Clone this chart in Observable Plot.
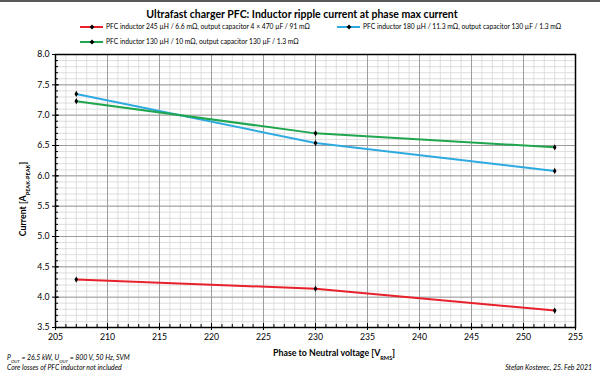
<!DOCTYPE html>
<html><head><meta charset="utf-8">
<script src="https://cdn.jsdelivr.net/npm/d3@7"></script>
<script src="https://cdn.jsdelivr.net/npm/@observablehq/plot@0.6"></script>
<style>body{margin:0;background:#fff;} svg{display:block;}</style>
</head><body><div id="chart"></div>
<script>
// ---- data ----
const voltage = [207, 230, 253];
const red245 = [4.29, 4.14, 3.78];
const blue180 = [7.35, 6.54, 6.08];
const green130 = [7.23, 6.70, 6.47];
const seriesNames = [
  "PFC inductor 245 µH / 6.6 mΩ, output capacitor 4 × 470 µF / 91 mΩ",
  "PFC inductor 180 µH / 11.3 mΩ, output capacitor 130 µF / 1.3 mΩ",
  "PFC inductor 130 µH / 10 mΩ, output capacitor 130 µF / 1.3 mΩ"
];
const seriesColors = ["#e8212b", "#2eaae1", "#1fa64f"];
const xTicks = d3.range(205, 256, 5);
const xMinor = d3.range(205, 256, 1);
const yTicks = d3.range(35, 81, 5).map(v => v / 10);
const yMinor = d3.range(35, 81, 1).map(v => v / 10);
const titleText = "Ultrafast charger PFC: Inductor ripple current at phase max current";
const author = "Stefan Kosterec, 25. Feb 2021";

const seriesValues = [red245, blue180, green130];
const rows = seriesValues.flatMap((vals, i) => vals.map((v, j) => ({series: seriesNames[i], x: voltage[j], y: v})));

const W = 600, H = 382, mT = 54, mB = 55, mL = 55, mR = 25;
const fw = W - mL - mR, fh = H - mT - mB;
const font = "Lato, 'Open Sans', sans-serif";
const plot = Plot.plot({
  width: W, height: H,
  marginTop: mT, marginBottom: mB, marginLeft: mL, marginRight: mR,
  style: {fontFamily: font, background: "white", color: "black"},
  x: {domain: [205, 255], label: null},
  y: {domain: [3.5, 8], label: null},
  color: {domain: seriesNames, range: seriesColors},
  marks: [
    Plot.ruleX(xMinor, {stroke: "#d6d6d6", strokeWidth: 0.8}),
    Plot.ruleY(yMinor, {stroke: "#d6d6d6", strokeWidth: 0.8}),
    Plot.ruleX(xTicks, {stroke: "#9c9c9c", strokeWidth: 1}),
    Plot.ruleY(yTicks, {stroke: "#9c9c9c", strokeWidth: 1}),
    Plot.tickX(xMinor, {x: d => d, insetTop: fh - 3, stroke: "black"}),
    Plot.tickX(xTicks, {x: d => d, insetTop: fh - 4, stroke: "black"}),
    Plot.tickY(yMinor, {y: d => d, insetRight: fw - 3, stroke: "black"}),
    Plot.tickY(yTicks, {y: d => d, insetRight: fw - 4, stroke: "black"}),
    Plot.frame({stroke: "black", strokeWidth: 1.5}),
    Plot.axisX(xTicks, {tickSize: 3, tickPadding: 3, fontSize: 8.7, label: null}),
    Plot.axisY(yTicks, {tickSize: 3, tickPadding: 3, fontSize: 8.7, tickFormat: d => d.toFixed(1), label: null}),
    Plot.line(rows, {x: "x", y: "y", z: "series", stroke: "series", strokeWidth: 2}),
    Plot.dot(rows, {x: "x", y: "y", symbol: "diamond", r: 1.9, fill: "black"})
  ]
});
document.getElementById("chart").append(plot);

const svg = d3.select(plot);
const txt = (x, y, anchor) => svg.append("text").attr("x", x).attr("y", y)
  .attr("text-anchor", anchor).attr("font-family", font).attr("fill", "black");

svg.append("rect").attr("x", 0).attr("y", 0).attr("width", W).attr("height", 2).attr("fill", "#5a5a5a");
txt(302, 18, "middle").attr("font-weight", "bold").attr("font-size", 10.5).text(titleText);

const legendPos = [[80, 27], [337, 27], [80, 42]];
seriesNames.forEach((name, i) => {
  const [lx, ly] = legendPos[i];
  svg.append("line").attr("x1", lx).attr("x2", lx + 23).attr("y1", ly).attr("y2", ly)
    .attr("stroke", seriesColors[i]).attr("stroke-width", 2);
  svg.append("path").attr("d", `M${lx+12},${ly-2.4}L${lx+14.4},${ly}L${lx+12},${ly+2.4}L${lx+9.6},${ly}Z`).attr("fill", "black");
  txt(lx + 26, ly + 2.4, "start").attr("font-size", 6.7).text(name);
});

// y axis label
const yl = svg.append("text").attr("transform", "translate(26,199) rotate(-90)").attr("text-anchor", "middle")
  .attr("font-family", font).attr("font-weight", "bold").attr("font-size", 8.8);
yl.append("tspan").text("Current [A");
yl.append("tspan").attr("baseline-shift", "sub").attr("font-size", 5.6).text("PEAK-PEAK");
yl.append("tspan").text("]");

// x axis label
const xl = txt(334, 356, "middle").attr("font-weight", "bold").attr("font-size", 8.8);
xl.append("tspan").text("Phase to Neutral voltage [V");
xl.append("tspan").attr("baseline-shift", "sub").attr("font-size", 5.6).text("RMS");
xl.append("tspan").text("]");

// notes
const n1 = txt(7, 360, "start").attr("font-style", "italic").attr("font-size", 6.9);
n1.append("tspan").text("P");
n1.append("tspan").attr("baseline-shift", "sub").attr("font-size", 4.5).text("OUT");
n1.append("tspan").text(" = 26.5 kW, U");
n1.append("tspan").attr("baseline-shift", "sub").attr("font-size", 4.5).text("OUT");
n1.append("tspan").text(" = 800 V, 50 Hz, SVM");
txt(7, 370, "start").attr("font-style", "italic").attr("font-size", 6.9).text("Core losses of PFC inductor not included");
txt(592, 370, "end").attr("font-style", "italic").attr("font-size", 6.9).text(author);
</script>
</body></html>
